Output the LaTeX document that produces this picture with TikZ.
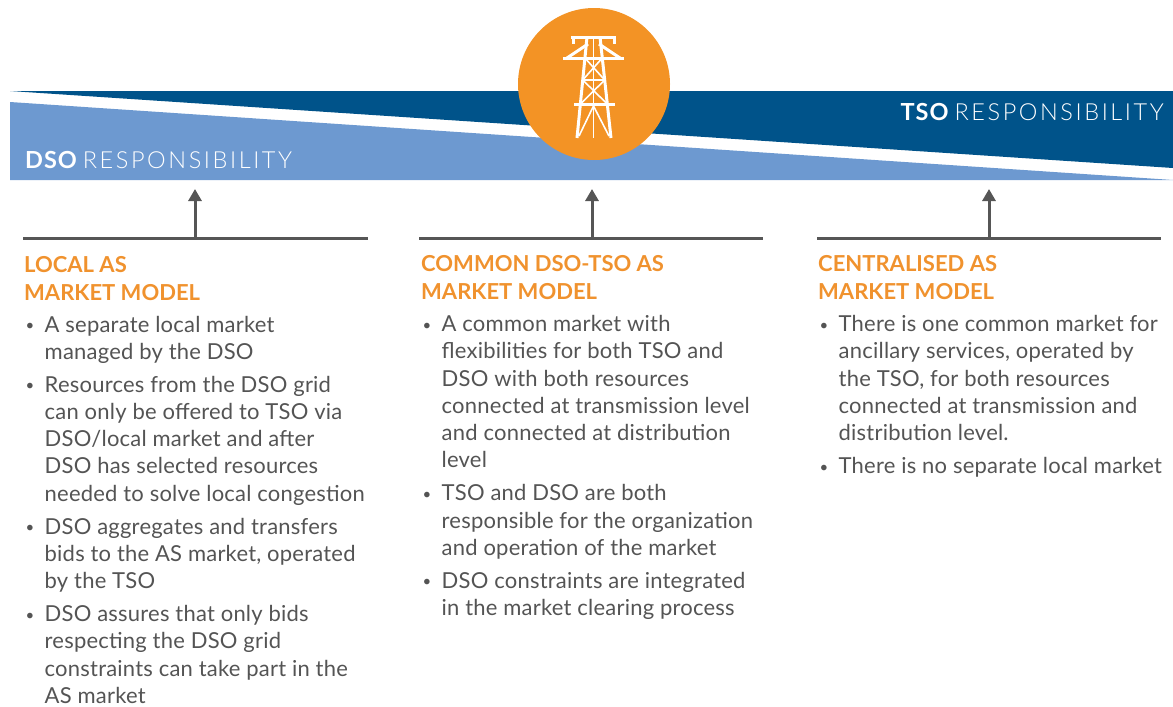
\documentclass[tikz,border=0pt]{standalone}
\usepackage{fontspec}
\setmainfont{Lato}
\IfFontExistsTF{Lato Light}{\newfontfamily\lightfont{Lato Light}[LetterSpace=11]}{\newfontfamily\lightfont{Lato}[LetterSpace=8]}
\newfontfamily\bodyfont{Lato}[LetterSpace=1]
\newfontfamily\bandbold{Lato}[LetterSpace=4]
\usetikzlibrary{arrows.meta}

\definecolor{tsoblue}{HTML}{00538A}
\definecolor{dsoblue}{HTML}{6D99D0}
\definecolor{towerorange}{HTML}{F39325}
\definecolor{headorange}{HTML}{F0922E}
\definecolor{textgrey}{HTML}{545454}
\definecolor{rulegrey}{HTML}{565656}

\newcommand{\hd}[1]{\begin{tabular}[t]{@{}l@{}}#1\end{tabular}}
\newcommand{\bl}[1]{\makebox[20.5pt][l]{\hspace{1.5pt}\raisebox{1.5pt}{\fontsize{15}{15}\selectfont\textbullet}}\begin{tabular}[t]{@{}l@{}}#1\end{tabular}}

\begin{document}
\begin{tikzpicture}[x=1pt,y=-1pt,
    band/.style={inner sep=0pt, text=white, font=\fontsize{23.5}{28}\selectfont},
    heading/.style={anchor=base west, inner sep=0pt, text=headorange, font=\fontsize{22}{27.6}\selectfont\bfseries},
    item/.style={anchor=north west, inner sep=0pt, text=textgrey, font=\bodyfont\fontsize{22}{27.2}\selectfont},
    rule/.style={rulegrey, line width=3pt},
    up/.style={rulegrey, line width=3pt, -{Triangle[width=13pt,length=12pt]}},
    wire/.style={white, line width=3pt},
    thinwire/.style={white, line width=1.6pt}]
  \useasboundingbox (0,0) rectangle (1173,707);
  % responsibility bands
  \fill[tsoblue] (10,91) -- (1173,91) -- (1173,168) -- cycle;
  \fill[dsoblue] (10,102) -- (1173,180) -- (10,180) -- cycle;
  \node[band, anchor=base west] (dso) at (25,168.3) {{\bandbold\bfseries DSO} {\lightfont RESPONSIBILITY}};
  \node[band, anchor=base east] (tso) at (1164,120.7) {{\bandbold\bfseries TSO} {\lightfont RESPONSIBILITY}};
  % tower
  \node[circle, fill=towerorange, minimum size=152pt, inner sep=0pt] (tower) at (594,84) {};
  \draw[wire] (571,37) -- (616,37);
  \draw[wire] (573,37) -- (573,44) (614,37) -- (614,44);
  \draw[wire] (563,58) -- (624,58);
  \draw[wire] (567,58) -- (588,44) (620,58) -- (599,44);
  \draw[wire] (574,104) -- (615,104);
  \draw[wire] (587,37) -- (577,138) (600,37) -- (611,138);
  \draw[thinwire] (593.5,37) -- (593.5,138);
  \draw[thinwire] (582.7,80) -- (604.7,80);
  \draw[thinwire] (584.9,58) -- (604.7,80) (602.3,58) -- (582.7,80);
  \draw[thinwire] (582.7,80) -- (607.3,104) (604.7,80) -- (580.4,104);
  \draw[thinwire] (579,136) -- (593.5,106) -- (609,136);
  % arrows up to the bands
  \foreach \x/\l/\r [count=\i] in {195/23/368, 592/419/763, 989/817/1161} {
    \coordinate (foot\i) at (\x,238);
    \coordinate (tip\i) at (\x,189);
    \draw[rule] (\l,238) -- (\r,238);
    \draw[up] (foot\i) -- (tip\i);
  }
  % local market model
  \node[heading] (local) at (24,272.5) {\hd{LOCAL AS\\MARKET MODEL}};
  \node[item, anchor=base west] (la) at (24,332) {\bl{A separate local market\\managed by the DSO}};
  \node[item] (lb) at ([yshift=-5.5pt]la.south west) {\bl{Resources from the DSO grid\\can only be offered to TSO via\\DSO/local market and after\\DSO has selected resources\\needed to solve local congestion}};
  \node[item] (lc) at ([yshift=-5.5pt]lb.south west) {\bl{DSO aggregates and transfers\\bids to the AS market, operated\\by the TSO}};
  \node[item] (ld) at ([yshift=-5.5pt]lc.south west) {\bl{DSO assures that only bids\\respecting the DSO grid\\constraints can take part in the\\AS market}};
  % common market model
  \node[heading] (common) at (421,271.7) {\hd{COMMON DSO-TSO AS\\MARKET MODEL}};
  \node[item, anchor=base west] (ca) at (421,331.7) {\bl{A common market with\\flexibilities for both TSO and\\DSO with both resources\\connected at transmission level\\and connected at distribution\\level}};
  \node[item] (cb) at ([yshift=-5.5pt]ca.south west) {\bl{TSO and DSO are both\\responsible for the organization\\and operation of the market}};
  \node[item] (cc) at ([yshift=-5.5pt]cb.south west) {\bl{DSO constraints are integrated\\in the market clearing process}};
  % centralised market model
  \node[heading] (central) at (818,271.7) {\hd{CENTRALISED AS\\MARKET MODEL}};
  \node[item, anchor=base west] (za) at (818,331.7) {\bl{There is one common market for\\ancillary services, operated by\\the TSO, for both resources\\connected at transmission and\\distribution level.}};
  \node[item] (zb) at ([yshift=-5.5pt]za.south west) {\bl{There is no separate local market}};
\end{tikzpicture}
\end{document}
